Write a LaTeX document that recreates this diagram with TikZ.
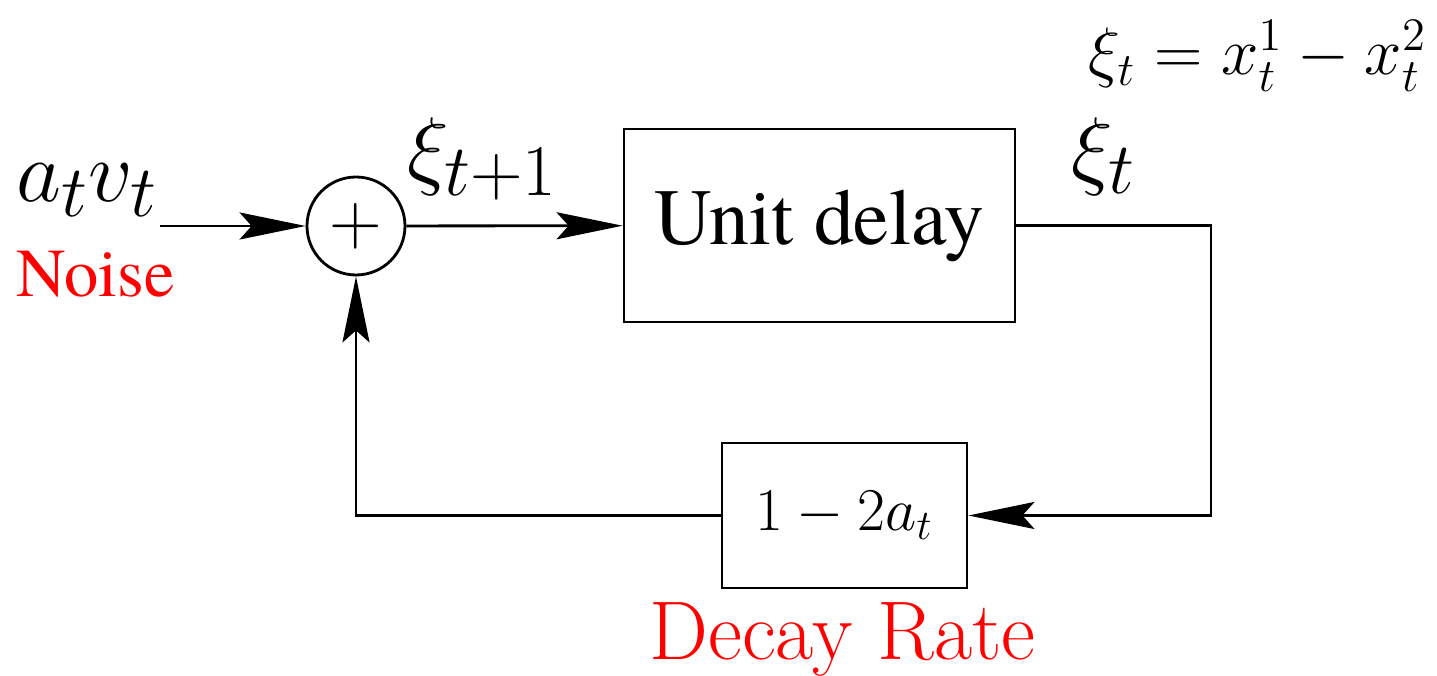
\documentclass[tikz,border=0pt]{standalone}
\usepackage{fontspec}
\usepackage{amsmath}
\usepackage{graphicx}
\usetikzlibrary{arrows.meta, positioning, calc}
\newfontfamily\timesfont{TeX Gyre Termes}
\definecolor{noisered}{RGB}{255,0,0}

\begin{document}
\begin{tikzpicture}[
    line width=0.8pt,
    block/.style={draw, rectangle, inner sep=0pt, align=center},
    sumnode/.style={draw, circle, minimum size=0.98cm, inner sep=0pt},
    lbl/.style={inner sep=0pt},
    redlbl/.style={inner sep=0pt, text=noisered},
    arr/.style={-{Stealth[length=6.6mm, width=2.7mm, inset=1.2mm]}}
  ]
    \useasboundingbox (0,0) rectangle (14.37,6.75);

    % blocks
    \node[sumnode] (sum) at (3.56,4.49) {\huge$+$};
    \node[block, minimum width=3.91cm, minimum height=1.93cm] (delay) at (8.195,4.495)
      {\timesfont\fontsize{22.7}{27}\selectfont Unit delay};
    \node[block, minimum width=2.45cm, minimum height=1.45cm] (decay) at (8.445,1.595)
      {\LARGE$1-2a_t$};

    \coordinate (in) at (1.60,4.49);
    \coordinate (fb) at (12.11,1.595);

    % labels
    \node[lbl, anchor=base west] (noiseval) at (0.15,4.73) {\Huge$a_tv_t$};
    \node[redlbl, anchor=base west] (noise) at (0.15,3.78)
      {\timesfont\fontsize{19.5}{23}\selectfont Noise};
    \node[lbl, anchor=base west] (xinext) at (4.06,4.96) {\Huge$\xi_{t+1}$};
    \node[lbl, anchor=base west] (xicur) at (10.70,4.96) {\Huge$\xi_t$};
    \node[redlbl, anchor=base] (rate) at (8.425,0.15)
      {\fontsize{23.7}{28}\selectfont Decay Rate};
    \node[lbl, anchor=base east] (xidef) at (14.28,6.0)
      {\scalebox{0.92}{\huge$\xi_t = x_t^1 - x_t^2$}};

    % connectors
    \draw[arr] (in) -- (sum);
    \draw[arr] (sum) -- (delay);
    \draw[arr] (delay.east) -| (fb) -- (decay.east);
    \draw[arr] (decay.west) -| (sum.south);
\end{tikzpicture}
\end{document}
